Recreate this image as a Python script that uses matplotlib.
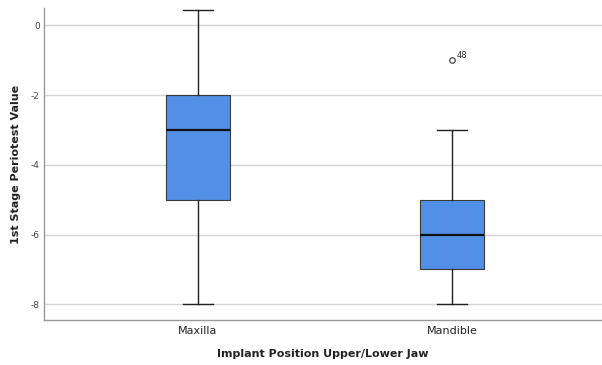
import matplotlib
matplotlib.use("Agg")
import matplotlib.pyplot as plt

categories = ["Maxilla", "Mandible"]
whislo = [-8, -8]
q1 = [-5, -7]
med = [-3, -6]
q3 = [-2, -5]
whishi = [0.44, -3]
fliers = [[], [-1]]
flier_labels = [[], ["48"]]
yticks = [0, -2, -4, -6, -8]

fig = plt.figure(figsize=(6.02, 3.65), dpi=100)
ax = fig.add_axes([44/602, 45/365, 558/602, 312/365])

stats = []
for i, c in enumerate(categories):
    stats.append(dict(label=c, whislo=whislo[i], q1=q1[i], med=med[i],
                      q3=q3[i], whishi=whishi[i], fliers=fliers[i]))

ax.bxp(stats, positions=[0, 1], widths=0.25, patch_artist=True,
       boxprops=dict(facecolor="#5290E8", edgecolor="#3a3a3a", linewidth=0.8),
       medianprops=dict(color="#111111", linewidth=1.6),
       whiskerprops=dict(color="#222222", linewidth=1.0),
       capprops=dict(color="#222222", linewidth=1.0),
       capwidths=0.12,
       flierprops=dict(marker="o", markerfacecolor="white", markeredgecolor="#333333",
                       markersize=4, markeredgewidth=0.8))

for i, (fl, lb) in enumerate(zip(fliers, flier_labels)):
    for v, t in zip(fl, lb):
        ax.annotate(t, (i, v), xytext=(3, 2), textcoords="offset points",
                    fontsize=6, color="#333333")

ax.set_xlim(-0.606, 1.59)
ax.set_ylim(-8.45, 0.5)
ax.set_yticks(yticks)
ax.set_yticklabels([str(v) for v in yticks])
ax.yaxis.grid(True, color="#d4d4d4", linewidth=1.0)
ax.set_axisbelow(True)
for s in ["top", "right"]:
    ax.spines[s].set_visible(False)
for s in ["left", "bottom"]:
    ax.spines[s].set_color("#999999")
    ax.spines[s].set_linewidth(1.0)
ax.tick_params(axis="y", length=0, labelsize=6.5, labelcolor="#444444", pad=3)
ax.tick_params(axis="x", length=0, labelsize=8, labelcolor="#222222", pad=4)
ax.set_xlabel("Implant Position Upper/Lower Jaw", fontsize=8, fontweight="bold",
              color="#222222", labelpad=10)
ax.set_ylabel("1st Stage Periotest Value", fontsize=8, fontweight="bold",
              color="#222222", labelpad=7)

fig.savefig("out.png", dpi=100)
